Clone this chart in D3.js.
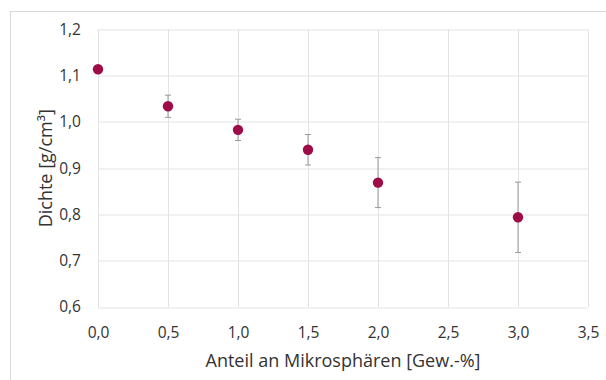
<!DOCTYPE html>
<html>
<head>
<meta charset="utf-8">
<script src="https://cdn.jsdelivr.net/npm/d3@7"></script>
<style>
  body { margin: 0; background: #fff; }
  text { font-family: "Open Sans", sans-serif; fill: #333; }
</style>
</head>
<body>
<div id="chart"></div>
<script>
// data
const anteil = [0.0, 0.5, 1.0, 1.5, 2.0, 3.0];
const dichte = [1.114, 1.034, 0.983, 0.940, 0.869, 0.794];
const fehler = [0.004, 0.024, 0.023, 0.033, 0.054, 0.076];
const xTicks = [0, 0.5, 1.0, 1.5, 2.0, 2.5, 3.0, 3.5];
const yTicks = [0.6, 0.7, 0.8, 0.9, 1.0, 1.1, 1.2];

const W = 606, H = 380;
const margin = {top: 29.5, right: 18, bottom: 73, left: 98};
const width = W - margin.left - margin.right;
const height = H - margin.top - margin.bottom;

const root = d3.select("#chart").append("svg")
    .attr("width", W)
    .attr("height", H);

// chart area frame (only top and left are visible)
root.append("rect")
    .attr("x", 10.5).attr("y", 11.5)
    .attr("width", 620).attr("height", 400)
    .attr("fill", "none")
    .attr("stroke", "#d9d9d9");

const svg = root.append("g")
    .attr("transform", `translate(${margin.left}, ${margin.top})`);

const x = d3.scaleLinear().domain([0, 3.5]).range([0, width]);
const y = d3.scaleLinear().domain([0.6, 1.2]).range([height, 0]);
const fmt = d => d3.format(".1f")(d).replace(".", ",");

// grid
svg.append("g")
  .selectAll("line")
  .data(yTicks)
  .join("line")
    .attr("x1", 0).attr("x2", width)
    .attr("y1", d => Math.round(y(d)) + 0.5)
    .attr("y2", d => Math.round(y(d)) + 0.5)
    .attr("stroke", "#e3e3e3");
svg.append("g")
  .selectAll("line")
  .data(xTicks)
  .join("line")
    .attr("y1", 0).attr("y2", height)
    .attr("x1", d => Math.round(x(d)) + 0.5)
    .attr("x2", d => Math.round(x(d)) + 0.5)
    .attr("stroke", "#e3e3e3");

// axes (labels only)
const xAxis = svg.append("g")
    .attr("transform", `translate(0, ${height})`)
    .call(d3.axisBottom(x).tickValues(xTicks).tickFormat(fmt).tickSize(0).tickPadding(20));
const yAxis = svg.append("g")
    .call(d3.axisLeft(y).tickValues(yTicks).tickFormat(fmt).tickSize(0).tickPadding(17));
[xAxis, yAxis].forEach(a => {
  a.select(".domain").remove();
  a.selectAll("text").style("font-size", "15.5px").style("fill", "#333")
    .style("font-family", "'Open Sans', sans-serif");
});

// axis titles
svg.append("text")
    .attr("x", width / 2)
    .attr("y", height + 60)
    .style("text-anchor", "middle")
    .style("font-size", "18px")
    .text("Anteil an Mikrosphären [Gew.-%]");

svg.append("text")
    .attr("transform", "rotate(-90)")
    .attr("x", -height / 2)
    .attr("y", -46)
    .style("text-anchor", "middle")
    .style("font-size", "18px")
    .text("Dichte [g/cm³]");

const pts = anteil.map((a, i) => ({a: a, d: dichte[i], e: fehler[i]}));

// error bars
const eb = svg.append("g").selectAll("g").data(pts).join("g")
    .attr("stroke", "#9a9a9a").attr("stroke-width", 1);
eb.append("line")
    .attr("x1", d => x(d.a)).attr("x2", d => x(d.a))
    .attr("y1", d => y(d.d + d.e)).attr("y2", d => y(d.d - d.e));
eb.append("line")
    .attr("x1", d => x(d.a) - 3).attr("x2", d => x(d.a) + 3)
    .attr("y1", d => y(d.d + d.e)).attr("y2", d => y(d.d + d.e));
eb.append("line")
    .attr("x1", d => x(d.a) - 3).attr("x2", d => x(d.a) + 3)
    .attr("y1", d => y(d.d - d.e)).attr("y2", d => y(d.d - d.e));

// dots
svg.append("g")
  .selectAll("circle")
  .data(pts)
  .join("circle")
    .attr("cx", d => x(d.a))
    .attr("cy", d => y(d.d))
    .attr("r", 5.2)
    .style("fill", "#9e0c48");
</script>
</body>
</html>
